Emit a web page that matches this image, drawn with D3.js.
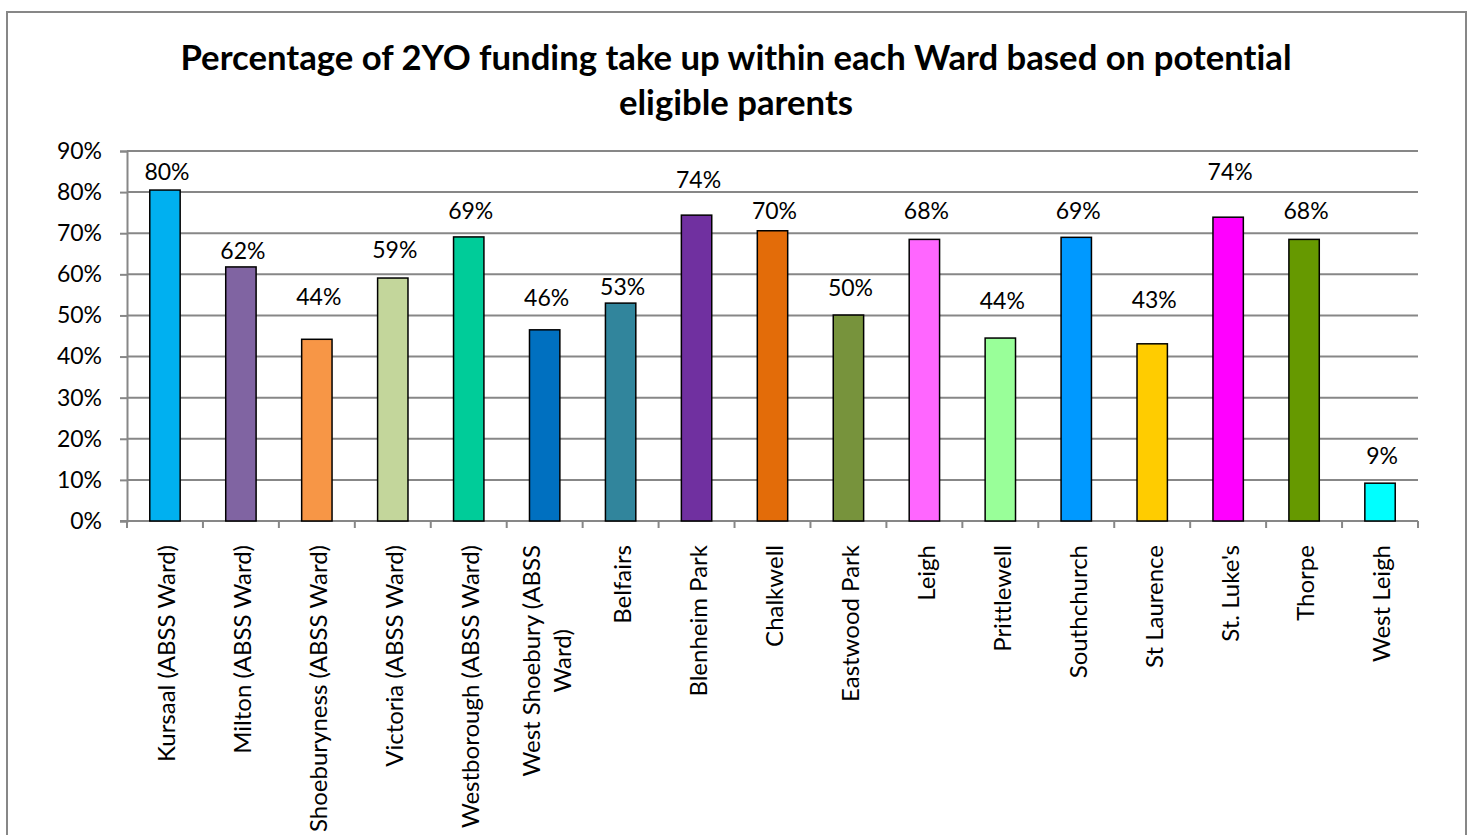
<!DOCTYPE html>
<html>
<head>
<meta charset="utf-8">
<script src="https://cdn.jsdelivr.net/npm/d3@7"></script>
<style>
  html, body { margin: 0; padding: 0; background: #fff; }
  svg { display: block; }
  text { font-family: Lato, "Open Sans", sans-serif; fill: #000; font-variant-ligatures: none; font-feature-settings: "liga" 0; }
</style>
</head>
<body>
<svg id="chart" width="1473" height="835"></svg>
<script>
// ---- data ----
const titleLines = ["Percentage of 2YO funding take up within each Ward based on potential", "eligible parents"];
const categories = ["Kursaal (ABSS Ward)", "Milton (ABSS Ward)", "Shoeburyness (ABSS Ward)", "Victoria (ABSS Ward)",
  "Westborough (ABSS Ward)", "West Shoebury (ABSS Ward)", "Belfairs", "Blenheim Park", "Chalkwell",
  "Eastwood Park", "Leigh", "Prittlewell", "Southchurch", "St Laurence", "St. Luke's", "Thorpe", "West Leigh"];
const values = [0.805, 0.618, 0.442, 0.591, 0.691, 0.465, 0.530, 0.744, 0.706, 0.501, 0.685, 0.445, 0.690, 0.431, 0.739, 0.685, 0.092];
const valueLabels = ["80%", "62%", "44%", "59%", "69%", "46%", "53%", "74%", "70%", "50%", "68%", "44%", "69%", "43%", "74%", "68%", "9%"];
// where each data label sits (value units, label centre), as placed in the original
const labelAt = [0.849, 0.657, 0.545, 0.660, 0.754, 0.543, 0.570, 0.830, 0.753, 0.568, 0.753, 0.536, 0.753, 0.538, 0.850, 0.753, 0.158];
const barColors = ["#00B0F0", "#8064A2", "#F79646", "#C3D69B", "#00CC99", "#0070C0", "#31859C", "#7030A0", "#E36C09",
  "#77933C", "#FF66FF", "#99FF99", "#0099FF", "#FFCC00", "#FF00FF", "#669900", "#00FFFF"];
const yTicks = [0, 0.1, 0.2, 0.3, 0.4, 0.5, 0.6, 0.7, 0.8, 0.9];

// ---- layout ----
const svg = d3.select("#chart");
const plot = { left: 127, right: 1418, top: 151, bottom: 521 };
const gridColor = "#878787";

svg.append("rect").attr("x", 7).attr("y", 12).attr("width", 1459).attr("height", 840)
  .attr("fill", "#fff").attr("stroke", gridColor).attr("stroke-width", 2);

// title
svg.append("text").attr("x", 736).attr("y", 70).attr("text-anchor", "middle")
  .style("font-weight", "bold").style("font-size", "34.7px")
  .selectAll("tspan").data(titleLines).join("tspan")
  .attr("x", 736).attr("dy", (d, i) => i === 0 ? 0 : 45).text(d => d);

const x = d3.scaleBand().domain(categories).range([plot.left, plot.right]).paddingInner(0.6).paddingOuter(0.3);
const y = d3.scaleLinear().domain([0, 0.9]).range([plot.bottom, plot.top]);

// gridlines + y axis
const yAxis = d3.axisLeft(y).tickValues(yTicks).tickFormat(d3.format(".0%")).tickSize(7).tickPadding(18);
const gy = svg.append("g").attr("transform", `translate(${plot.left},0)`).call(yAxis);
gy.select(".domain").attr("stroke", gridColor).attr("stroke-width", 2);
gy.selectAll(".tick line").attr("stroke", gridColor).attr("stroke-width", 2);
gy.selectAll(".tick text").style("font-size", "23px").style("font-family", "Lato, sans-serif").attr("fill", "#000");

svg.append("g").selectAll("line").data(yTicks.filter(d => d > 0)).join("line")
  .attr("x1", plot.left).attr("x2", plot.right).attr("y1", d => y(d)).attr("y2", d => y(d))
  .attr("stroke", gridColor).attr("stroke-width", 2);

// x axis line + ticks at category boundaries
const step = x.step();
const boundaries = d3.range(categories.length + 1).map(i => plot.left + i * step);
svg.append("line").attr("x1", plot.left - 7).attr("x2", plot.right).attr("y1", plot.bottom).attr("y2", plot.bottom)
  .attr("stroke", gridColor).attr("stroke-width", 2);
svg.append("g").selectAll("line").data(boundaries).join("line")
  .attr("x1", d => d).attr("x2", d => d).attr("y1", plot.bottom).attr("y2", plot.bottom + 7)
  .attr("stroke", gridColor).attr("stroke-width", 2);

// bars
svg.append("g").selectAll("rect").data(categories).join("rect")
  .attr("x", d => x(d)).attr("width", x.bandwidth())
  .attr("y", (d, i) => y(values[i])).attr("height", (d, i) => y(0) - y(values[i]))
  .attr("fill", (d, i) => barColors[i]).attr("stroke", "#000").attr("stroke-width", 1.5);

// data labels
svg.append("g").selectAll("text").data(categories).join("text")
  .attr("x", d => x(d) + x.bandwidth() / 2 + 2).attr("y", (d, i) => y(labelAt[i]))
  .attr("dy", "0.35em").attr("text-anchor", "middle").style("font-size", "23px")
  .text((d, i) => valueLabels[i]);

// category labels (rotated, wrapped when too long)
const labelTop = plot.bottom + 24;
const maxLabelLen = 294;
const catG = svg.append("g");
categories.forEach((name, i) => {
  const cx = x(name) + x.bandwidth() / 2 + 2;
  const g = catG.append("g").attr("transform", `translate(${cx},${labelTop}) rotate(-90)`);
  const t = g.append("text").style("font-size", "24px").attr("text-anchor", "end").attr("dy", "0.35em").text(name);
  const len = t.node().getComputedTextLength();
  if (len > maxLabelLen) {
    const words = name.split(" ");
    const lines = [];
    let cur = "";
    words.forEach(w => {
      const test = cur ? cur + " " + w : w;
      t.text(test);
      if (t.node().getComputedTextLength() > maxLabelLen && cur) { lines.push(cur); cur = w; }
      else cur = test;
    });
    lines.push(cur);
    const widths = lines.map(l => { t.text(l); return t.node().getComputedTextLength(); });
    const widest = d3.max(widths);
    t.text(null).attr("text-anchor", "middle").attr("dy", null);
    const lh = 31;
    lines.forEach((l, k) => {
      t.append("tspan").attr("x", -widest / 2).attr("y", (k - (lines.length - 1) / 2) * lh).attr("dy", "0.35em").text(l);
    });
  }
});
</script>
</body>
</html>
